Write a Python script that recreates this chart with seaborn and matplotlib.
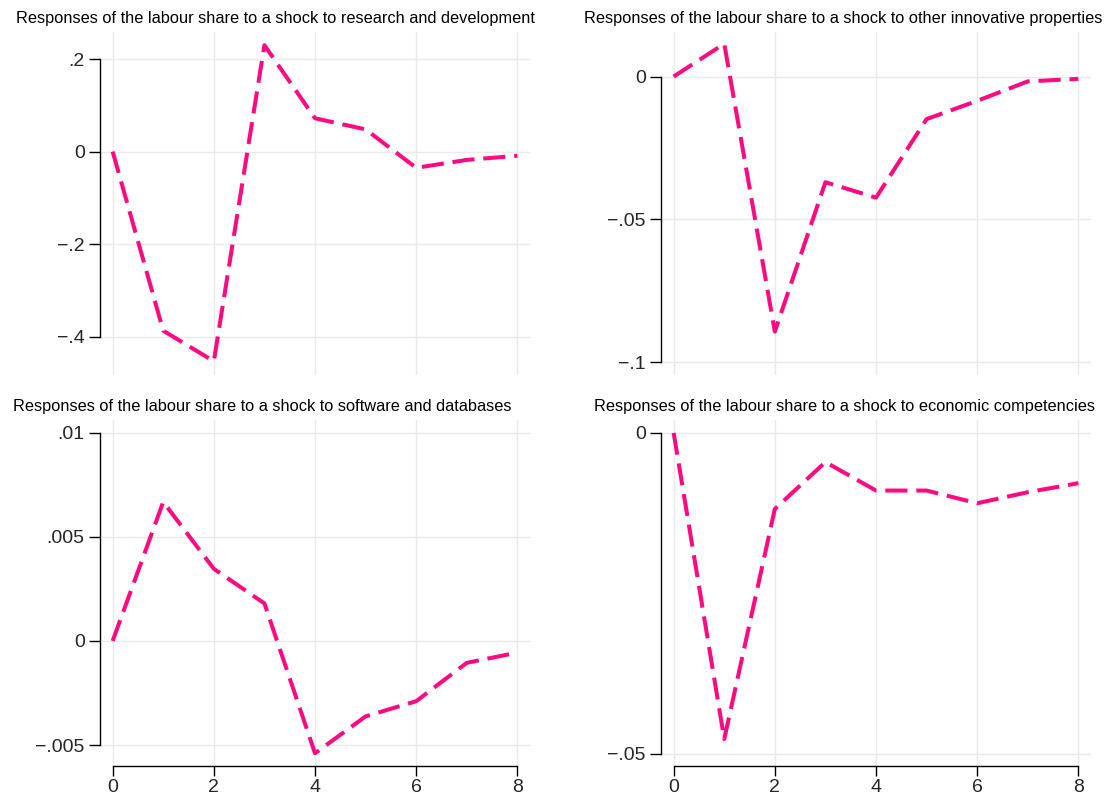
import matplotlib
matplotlib.use('Agg')
import numpy as np
import pandas as pd
import matplotlib.pyplot as plt
import seaborn as sns

# impulse responses
horizon = [0, 1, 2, 3, 4, 5, 6, 7, 8]
rd = [0.0, -0.387, -0.453, 0.230, 0.072, 0.048, -0.035, -0.018, -0.009]
oip = [0.0, 0.0115, -0.0893, -0.0370, -0.0424, -0.0149, -0.0085, -0.0017, -0.0008]
soft = [0.0, 0.00667, 0.00346, 0.00180, -0.00539, -0.00362, -0.00289, -0.00105, -0.00056]
econ = [0.0, -0.0477, -0.01186, -0.00455, -0.00899, -0.00899, -0.01097, -0.00925, -0.00784]

titles = [
    'Responses of the labour share to a shock to research and development',
    'Responses of the labour share to a shock to other innovative properties',
    'Responses of the labour share to a shock to software and databases',
    'Responses of the labour share to a shock to economic competencies',
]
yticks = [[0.2, 0, -0.2, -0.4], [0, -0.05, -0.1], [0.01, 0.005, 0, -0.005], [0, -0.05]]
yticklabels = [['.2', '0', '\u2212.2', '\u2212.4'], ['0', '\u2212.05', '\u2212.1'],
               ['.01', '.005', '0', '\u2212.005'], ['0', '\u2212.05']]
xticks = [0, 2, 4, 6, 8]

sns.set_theme(style='white')
plt.rcParams['font.family'] = ['Liberation Sans', 'DejaVu Sans']

W, H = 1112, 794
fig = plt.figure(figsize=(W / 100, H / 100), dpi=100)

# pixel boxes: left, top, right, bottom
boxes = [(100, 32, 530, 375), (661, 32, 1091, 375), (100, 420, 530, 766), (661, 420, 1091, 766)]
ylims = [(-0.4827, 0.2584), (-0.1045, 0.0156), (-0.0060, 0.0106), (-0.0519, 0.0020)]
title_pos = [(275, 18), (843, 18), (262, 406), (845, 406)]
series = [rd, oip, soft, econ]
pink = '#FF0A80'

for i in range(4):
    l, t, r, b = boxes[i]
    ax = fig.add_axes([l / W, 1 - b / H, (r - l) / W, (b - t) / H])
    df = pd.DataFrame({'step': horizon, 'irf': series[i]})
    sns.lineplot(data=df, x='step', y='irf', ax=ax, color=pink, lw=2.9)
    ax.lines[0].set_dashes((5.5, 2.2))
    ax.set_xlim(-0.25, 8.25)
    ax.set_ylim(*ylims[i])
    ax.set_xlabel('')
    ax.set_ylabel('')
    ax.set_xticks(xticks)
    ax.set_yticks(yticks[i])
    ax.set_yticklabels(yticklabels[i])
    ax.grid(True, color='#EAEAEA', lw=1)
    ax.set_axisbelow(True)
    for s in ['top', 'right']:
        ax.spines[s].set_visible(False)
    ax.spines['left'].set_color('black')
    ax.spines['left'].set_linewidth(1)
    ax.spines['left'].set_bounds(min(yticks[i]), max(yticks[i]))
    ax.tick_params(axis='y', length=8, width=1, color='black', left=True, labelsize=14, pad=3)
    if i >= 2:
        ax.spines['bottom'].set_color('black')
        ax.spines['bottom'].set_linewidth(1)
        ax.spines['bottom'].set_bounds(0, 8)
        ax.tick_params(axis='x', length=7, width=1, color='black', bottom=True, labelsize=14, pad=2)
    else:
        ax.spines['bottom'].set_visible(False)
        ax.tick_params(axis='x', length=0, labelbottom=False)
    tx, ty = title_pos[i]
    fig.text(tx / W, 1 - ty / H, titles[i], ha='center', va='center', fontsize=11.8, color='black')

fig.savefig('out.png', dpi=100, facecolor='white')
